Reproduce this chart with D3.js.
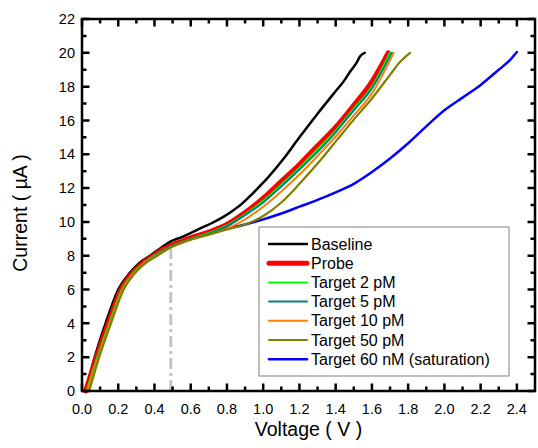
<!DOCTYPE html>
<html>
<head>
<meta charset="utf-8">
<script src="https://cdn.jsdelivr.net/npm/d3@7"></script>
<style>
  body { margin: 0; background: #fff; }
  text { font-family: "Liberation Sans", Arial, sans-serif; }
</style>
</head>
<body>
<svg id="chart" width="538" height="448"></svg>
<script>
// I-V curves, [voltage (V), current (uA)]
const baseline = [[0.02,0],[0.07,2],[0.13,4],[0.2,6],[0.265,7],[0.32,7.6],[0.375,8],[0.44,8.5],[0.49,8.85],[0.55,9.1],[0.61,9.4],[0.67,9.7],[0.72,9.95],[0.78,10.3],[0.83,10.65],[0.88,11.05],[0.93,11.55],[0.98,12.1],[1.02,12.55],[1.11,13.7],[1.2,15.0],[1.3,16.4],[1.39,17.6],[1.45,18.4],[1.48,18.9],[1.515,19.4],[1.535,19.8],[1.56,20.0]];
const probe = [[0.02,0],[0.08,2],[0.145,4],[0.215,6],[0.28,7],[0.34,7.6],[0.4,8.05],[0.45,8.4],[0.49,8.6],[0.55,8.85],[0.6,9.05],[0.7,9.4],[0.8,9.85],[0.9,10.55],[1.0,11.4],[1.1,12.4],[1.2,13.4],[1.3,14.5],[1.4,15.6],[1.5,16.9],[1.6,18.3],[1.69,20.0]];
const target2pM = [[0.025,0],[0.085,2],[0.15,4],[0.22,6],[0.285,7],[0.345,7.6],[0.405,8.05],[0.49,8.55],[0.6,9.0],[0.7,9.35],[0.8,9.8],[0.9,10.45],[1.0,11.25],[1.1,12.2],[1.2,13.2],[1.3,14.3],[1.4,15.4],[1.5,16.7],[1.6,18.0],[1.70,20.0]];
const target5pM = [[0.03,0],[0.09,2],[0.155,4],[0.225,6],[0.29,7],[0.35,7.6],[0.41,8.05],[0.49,8.55],[0.6,9.0],[0.7,9.3],[0.8,9.75],[0.9,10.4],[1.0,11.15],[1.1,12.1],[1.2,13.1],[1.3,14.15],[1.4,15.3],[1.5,16.6],[1.6,17.9],[1.71,20.0]];
const target10pM = [[0.03,0],[0.09,2],[0.155,4],[0.225,6],[0.29,7],[0.35,7.6],[0.41,8.0],[0.49,8.5],[0.6,8.95],[0.7,9.25],[0.8,9.6],[0.9,10.15],[1.0,10.9],[1.1,11.8],[1.2,12.8],[1.3,13.9],[1.4,15.05],[1.5,16.3],[1.6,17.6],[1.72,20.0]];
const target50pM = [[0.04,0],[0.095,2],[0.16,4],[0.23,6],[0.295,7],[0.355,7.6],[0.415,8.0],[0.49,8.5],[0.6,8.95],[0.7,9.25],[0.8,9.55],[0.9,9.85],[1.0,10.35],[1.1,11.15],[1.2,12.25],[1.3,13.45],[1.4,14.75],[1.5,16.05],[1.6,17.3],[1.7,18.7],[1.75,19.4],[1.81,20.0]];
const target60nM = [[0.03,0],[0.09,2],[0.155,4],[0.225,6],[0.29,7],[0.35,7.6],[0.41,8.05],[0.49,8.55],[0.6,9.0],[0.7,9.3],[0.8,9.6],[0.9,9.85],[1.0,10.15],[1.1,10.5],[1.2,10.9],[1.3,11.3],[1.4,11.75],[1.5,12.25],[1.6,12.95],[1.7,13.75],[1.8,14.65],[1.9,15.65],[2.0,16.6],[2.1,17.35],[2.2,18.1],[2.3,19.0],[2.36,19.55],[2.4,20.05]];

const seriesNames = ["Baseline", "Probe", "Target 2 pM", "Target 5 pM", "Target 10 pM", "Target 50 pM", "Target 60 nM (saturation)"];
const seriesData = [baseline, probe, target2pM, target5pM, target10pM, target50pM, target60nM];
const seriesColors = ["#000000", "#ff0000", "#00ff00", "#008080", "#ff8000", "#808000", "#0000ff"];
const seriesWidths = [2.5, 5, 2, 2, 2, 2.2, 2.5];
const drawOrder = [6, 0, 1, 2, 3, 4, 5];

const xTicks = d3.range(0, 2.41, 0.2);
const yTicks = d3.range(0, 22.1, 2);
const xMinor = d3.range(0.1, 2.5, 0.2);
const yMinor = d3.range(1, 22, 2);
const markerV = 0.49, markerI = 8.77;

const svg = d3.select("#chart");
const margin = {left: 82, top: 19, right: 3, bottom: 57};
const W = 538 - margin.left - margin.right;
const H = 448 - margin.top - margin.bottom;

const x = d3.scaleLinear().domain([0, 2.5]).range([0, W]);
const y = d3.scaleLinear().domain([0, 22]).range([H, 0]);

const g = svg.append("g").attr("transform", `translate(${margin.left},${margin.top})`);

// marker line
g.append("line")
  .attr("x1", x(markerV)).attr("x2", x(markerV))
  .attr("y1", y(0)).attr("y2", y(markerI))
  .attr("stroke", "#c4c4c4").attr("stroke-width", 3)
  .attr("stroke-dasharray", "11,4,3,4");

const line = d3.line().x(d => x(d[0])).y(d => y(d[1])).curve(d3.curveMonotoneX);

g.append("g").selectAll("path")
  .data(drawOrder)
  .join("path")
  .attr("d", i => line(seriesData[i]))
  .attr("fill", "none")
  .attr("stroke", i => seriesColors[i])
  .attr("stroke-width", i => seriesWidths[i])
  .attr("stroke-linejoin", "round")
  .attr("stroke-linecap", "round");

g.append("rect")
  .attr("x", 0).attr("y", 0).attr("width", W).attr("height", H)
  .attr("fill", "none").attr("stroke", "#000").attr("stroke-width", 2.5);

// ticks, all inward, on four sides (one path per set)
function tickPath(vals, len, horizontal) {
  const p = d3.path();
  vals.forEach(v => {
    if (horizontal) {
      p.moveTo(x(v), H); p.lineTo(x(v), H - len);
      p.moveTo(x(v), 0); p.lineTo(x(v), len);
    } else {
      p.moveTo(0, y(v)); p.lineTo(len, y(v));
      p.moveTo(W, y(v)); p.lineTo(W - len, y(v));
    }
  });
  g.append("path").attr("d", p.toString())
    .attr("fill", "none").attr("stroke", "#000").attr("stroke-width", 2.5);
}
tickPath(xTicks, 7.5, true);
tickPath(xMinor, 4.5, true);
tickPath(yTicks, 7.5, false);
tickPath(yMinor, 4.5, false);

// tick labels
g.append("g").selectAll("text").data(xTicks).join("text")
  .attr("x", d => x(d)).attr("y", H + 23)
  .attr("text-anchor", "middle").attr("font-size", 14.5)
  .text(d3.format(".1f"));

g.append("g").selectAll("text").data(yTicks).join("text")
  .attr("x", -7).attr("y", d => y(d)).attr("dy", "0.36em")
  .attr("text-anchor", "end").attr("font-size", 14.5)
  .text(d3.format("d"));

// axis titles
svg.append("text")
  .attr("x", margin.left + W / 2).attr("y", 436)
  .attr("text-anchor", "middle").attr("font-size", 19.5)
  .text("Voltage ( V )");

svg.append("text")
  .attr("transform", "translate(27,213) rotate(-90)")
  .attr("text-anchor", "middle").attr("font-size", 19.5)
  .text("Current ( \u00b5A )");

// legend
const legend = svg.append("g");
legend.append("rect")
  .attr("x", 259).attr("y", 227).attr("width", 250).attr("height", 149)
  .attr("fill", "#fff").attr("stroke", "#808080").attr("stroke-width", 1);

const item = legend.selectAll("g.item")
  .data(seriesNames)
  .join("g")
  .attr("class", "item")
  .attr("transform", (d, i) => `translate(0,${244 + i * 19.2})`);

item.append("line")
  .attr("x1", 269).attr("x2", 307)
  .attr("stroke", (d, i) => seriesColors[i])
  .attr("stroke-width", (d, i) => seriesWidths[i])
  .attr("stroke-linecap", "round");

item.append("text")
  .attr("x", 311).attr("dy", "0.35em")
  .attr("font-size", 16)
  .text(d => d);
</script>
</body>
</html>
